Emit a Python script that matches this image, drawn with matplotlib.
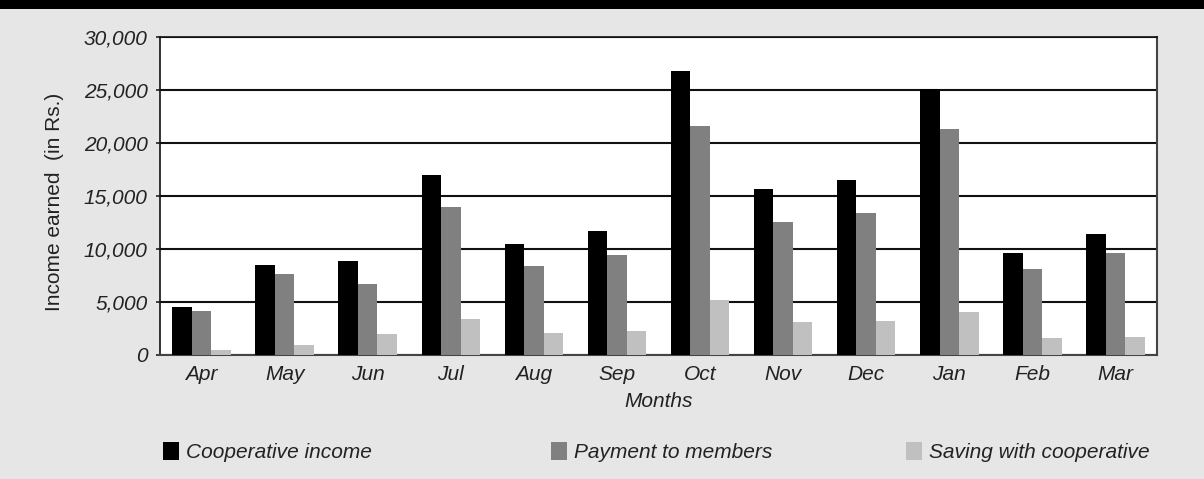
import matplotlib
matplotlib.use("Agg")
import matplotlib.pyplot as plt
import numpy as np
from matplotlib.patches import Rectangle

months = ["Apr", "May", "Jun", "Jul", "Aug", "Sep", "Oct", "Nov", "Dec", "Jan", "Feb", "Mar"]
coop_income = [4500, 8500, 8900, 17000, 10450, 11700, 26800, 15650, 16500, 25100, 9600, 11400]
payment_members = [4150, 7650, 6700, 13950, 8400, 9450, 21600, 12550, 13400, 21300, 8100, 9600]
saving_coop = [470, 940, 1980, 3400, 2070, 2250, 5200, 3100, 3200, 4050, 1600, 1700]
series_names = ["Cooperative income", "Payment to members", "Saving with cooperative"]
colors = ["#000000", "#808080", "#c0c0c0"]
yticks = [0, 5000, 10000, 15000, 20000, 25000, 30000]

plt.rcParams["font.family"] = ["Liberation Sans", "DejaVu Sans"]

W, H = 1204, 479
fig = plt.figure(figsize=(W / 100, H / 100), dpi=100)
fig.patch.set_facecolor("#e6e6e6")
# black top band
fig.add_artist(Rectangle((0, 1 - 9 / H), 1, 9 / H, transform=fig.transFigure,
                         facecolor="black", edgecolor="none"))

ax = fig.add_axes([160 / W, 1 - 355 / H, (1157 - 160) / W, (355 - 37) / H])
ax.set_facecolor("white")

x = np.arange(len(months))
bw = 0.235
for i, (vals, c) in enumerate(zip([coop_income, payment_members, saving_coop], colors)):
    ax.bar(x + (i - 1) * bw, vals, width=bw, color=c, edgecolor="none", zorder=3,
           label=series_names[i])

ax.set_xlim(-0.5, len(months) - 0.5)
ax.set_ylim(0, 30000)
ax.set_yticks(yticks)
ax.set_yticklabels([f"{v:,}" for v in yticks], fontstyle="italic", fontsize=15)
ax.set_xticks(x)
ax.set_xticklabels(months, fontstyle="italic", fontsize=15)
ax.tick_params(axis="y", length=3, width=1.2, pad=6, colors="#222222")
ax.tick_params(axis="x", length=0, pad=7)
for lbl in ax.get_yticklabels() + ax.get_xticklabels():
    lbl.set_color("#222222")

ax.yaxis.grid(True, color="#111111", linewidth=1.5, zorder=1)
ax.set_axisbelow(True)
ax.spines["left"].set_color("#111111")
ax.spines["left"].set_linewidth(1.2)
ax.spines["bottom"].set_color("#444444")
ax.spines["bottom"].set_linewidth(1.5)
ax.spines["right"].set_color("#444444")
ax.spines["right"].set_linewidth(1.5)
ax.spines["top"].set_color("#111111")
ax.spines["top"].set_linewidth(1.2)

ax.set_ylabel("Income earned  (in Rs.)", fontsize=15, color="#222222", labelpad=6)
ax.yaxis.set_label_coords(-(160 - 64) / (1157 - 160), 0.48)
ax.set_xlabel("Months", fontsize=15, fontstyle="italic", color="#222222", labelpad=6)

handles, labels = ax.get_legend_handles_labels()
legend_x = [163, 551, 906]
for h, l, lx in zip(handles, labels, legend_x):
    leg = fig.legend([h], [l], loc="center left", bbox_to_anchor=(lx / W, 1 - 452 / H),
                     frameon=False, prop={"style": "italic", "size": 15},
                     handlelength=0.75, handleheight=1.0, handletextpad=0.35,
                     borderpad=0, borderaxespad=0)
    for t in leg.get_texts():
        t.set_color("#222222")

fig.savefig("out.png", dpi=100, facecolor=fig.get_facecolor())
